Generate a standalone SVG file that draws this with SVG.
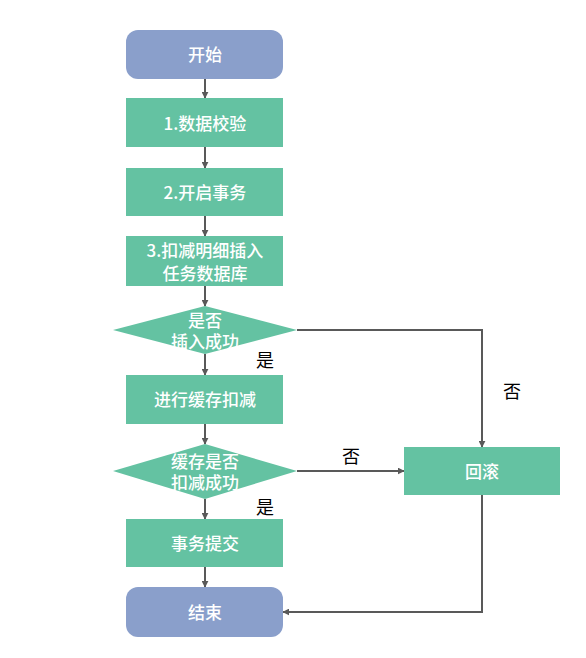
<svg xmlns="http://www.w3.org/2000/svg" width="586" height="658" viewBox="0 0 586 658">
<style>
.term{fill:#8A9FCB;}
.proc{fill:#64C2A2;}
.t{fill:#fff;font-family:"Noto Sans CJK SC","Noto Sans",sans-serif;font-size:17px;font-weight:500;text-anchor:middle;dominant-baseline:central;}
.lbl{fill:#000;font-family:"Noto Sans CJK SC","Noto Sans",sans-serif;font-size:18px;text-anchor:middle;dominant-baseline:central;}
.c{fill:none;stroke:#595959;stroke-width:2;marker-end:url(#ah);}
</style>
<defs>
<marker id="ah" viewBox="0 0 10 10" refX="9" refY="5" markerWidth="7" markerHeight="7" orient="auto" markerUnits="userSpaceOnUse">
<path d="M0,0 L10,5 L0,10 z" fill="#595959"/>
</marker>
</defs>
<rect width="586" height="658" fill="#fff"/>
<g id="connectors">
<path class="c" d="M205,79 V98"/>
<path class="c" d="M205,147 V168"/>
<path class="c" d="M205,216 V236"/>
<path class="c" d="M205,286 V306"/>
<path class="c" d="M205,354 V375"/>
<path class="c" d="M205,424 V444"/>
<path class="c" d="M205,499 V519"/>
<path class="c" d="M205,567 V587"/>
<path class="c" d="M297,330 H482 V447"/>
<path class="c" d="M297,471 H404"/>
<path class="c" d="M482,495 V612 H283"/>
<text class="lbl" x="265" y="359">是</text>
<text class="lbl" x="512" y="390">否</text>
<text class="lbl" x="351" y="455">否</text>
<text class="lbl" x="265" y="506">是</text>
</g>
<g id="start">
<rect class="term" x="126" y="30" width="157" height="49" rx="12"/>
<text class="t" x="205" y="53">开始</text>
</g>
<g id="step1">
<rect class="proc" x="126" y="98" width="157" height="49"/>
<text class="t" x="205" y="122">1.数据校验</text>
</g>
<g id="step2">
<rect class="proc" x="126" y="168" width="157" height="48"/>
<text class="t" x="205" y="191">2.开启事务</text>
</g>
<g id="step3">
<rect class="proc" x="126" y="236" width="157" height="50"/>
<text class="t" x="205" y="249">3.扣减明细插入</text>
<text class="t" x="205" y="272">任务数据库</text>
</g>
<g id="decision1">
<polygon class="proc" points="205,306 297,330 205,354 113,330"/>
<text class="t" x="205" y="319">是否</text>
<text class="t" x="205" y="340">插入成功</text>
</g>
<g id="step4">
<rect class="proc" x="126" y="375" width="157" height="49"/>
<text class="t" x="205" y="398">进行缓存扣减</text>
</g>
<g id="decision2">
<polygon class="proc" points="205,444 297,471 205,499 113,471"/>
<text class="t" x="205" y="460">缓存是否</text>
<text class="t" x="205" y="481">扣减成功</text>
</g>
<g id="step5">
<rect class="proc" x="126" y="519" width="157" height="48"/>
<text class="t" x="205" y="542">事务提交</text>
</g>
<g id="end">
<rect class="term" x="126" y="587" width="157" height="50" rx="12"/>
<text class="t" x="205" y="611">结束</text>
</g>
<g id="rollback">
<rect class="proc" x="404" y="447" width="156" height="48"/>
<text class="t" x="482" y="470">回滚</text>
</g>
</svg>
